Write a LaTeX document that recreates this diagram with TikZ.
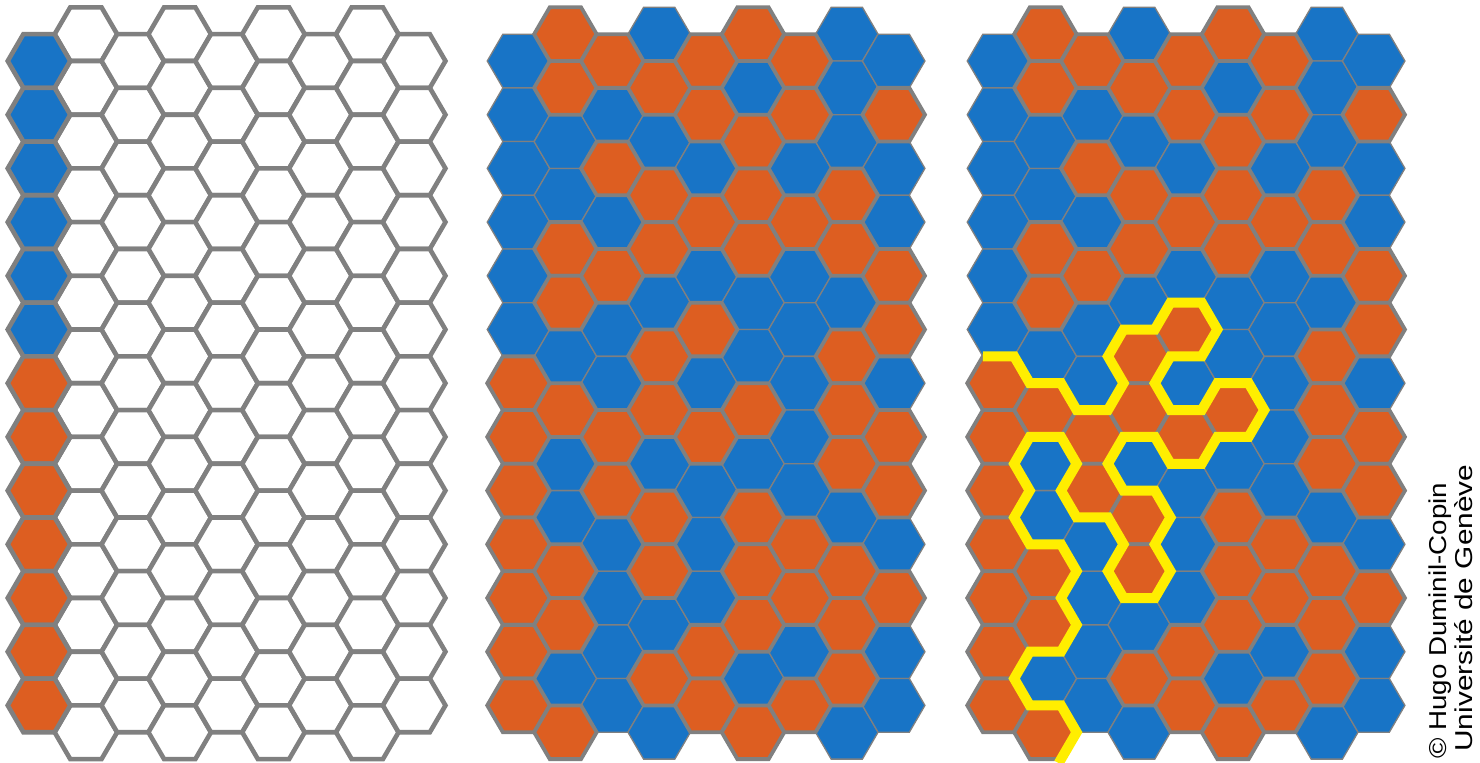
\documentclass[tikz,border=0pt]{standalone}
\usepackage{fontspec}
\newfontfamily\credfont{Liberation Sans}
\usepackage{graphicx}
\definecolor{hexblue}{RGB}{24,116,198}
\definecolor{hexorange}{RGB}{221,94,33}
\definecolor{hexgray}{RGB}{128,128,128}
\definecolor{pathyellow}{RGB}{255,238,0}
\tikzset{
  cellW/.style={fill=white, draw=hexgray, line width=2.3pt},
  cellWB/.style={fill=hexblue, draw=hexgray, line width=2.3pt},
  cellWO/.style={fill=hexorange, draw=hexgray, line width=2.3pt},
  cellB/.style={fill=hexblue, draw=hexgray, line width=0.65pt},
  cellO/.style={fill=hexorange, draw=hexgray, line width=1.9pt},
  interface/.style={draw=pathyellow, line width=5pt, line join=miter, line cap=butt},
  credit/.style={rotate=90, anchor=base west, inner sep=0pt, text=black}
}
\newcommand\hexcell[3]{\draw[#3] (#1+2,#2) -- (#1+1,#2-1) -- (#1-1,#2-1) -- (#1-2,#2) -- (#1-1,#2+1) -- (#1+1,#2+1) -- cycle;}
\def\gridcols{0/{B,B,B,B,B,B,O,O,O,O,O,O,O},
1/{O,O,B,B,O,O,B,O,B,B,O,O,B,O},
2/{O,B,O,B,O,B,B,O,O,B,B,B,B},
3/{B,O,B,O,O,B,O,O,B,O,O,B,O,B},
4/{O,O,B,O,B,O,B,O,B,B,B,O,O},
5/{O,B,O,O,O,B,B,O,B,O,O,O,B,O},
6/{O,O,B,O,B,B,B,B,B,O,O,B,O},
7/{B,B,B,O,O,B,O,O,O,B,O,O,O,B},
8/{B,O,B,B,O,O,B,O,O,B,O,B,B}}
\begin{document}
\begin{tikzpicture}[x=0.5pt,y=-0.5pt]
\fill[white] (0,0) rectangle (1480,762);
\useasboundingbox (0,0) rectangle (1480,762);
% ---------- panel 1: boundary condition only
\begin{scope}[shift={(39,61)}, x=7.8165pt, y=-13.425pt]
  \foreach \c in {1,...,8} {
    \pgfmathtruncatemacro\nk{mod(\c,2)==1 ? 13 : 12}
    \foreach \kk in {0,...,\nk} {
      \pgfmathtruncatemacro\ii{3*\c}
      \pgfmathtruncatemacro\jj{2*\kk-mod(\c,2)}
      \hexcell{\ii}{\jj}{cellW}
    }
  }
  \foreach \t [count=\kk from 0] in {B,B,B,B,B,B,O,O,O,O,O,O,O} {
    \pgfmathtruncatemacro\jj{2*\kk}
    \if\t B\hexcell{0}{\jj}{cellWB}\else\hexcell{0}{\jj}{cellWO}\fi
  }
\end{scope}
% ---------- panels 2 and 3: the colouring
\foreach \ox in {518.5,998.5} {
  \begin{scope}[shift={(\ox,61)}, x=7.8165pt, y=-13.425pt]
    \foreach \pass in {B,O} {
      \foreach \c/\cols in \gridcols {
        \foreach \t [count=\kk from 0] in \cols {
          \if\t\pass
            \pgfmathtruncatemacro\ii{3*\c}
            \pgfmathtruncatemacro\jj{2*\kk-mod(\c,2)}
            \if\pass B\hexcell{\ii}{\jj}{cellB}\else\hexcell{\ii}{\jj}{cellO}\fi
          \fi
        }
      }
    }
  \end{scope}
}
% ---------- panel 3: the exploration interface
\begin{scope}[shift={(998.5,61)}, x=7.8165pt, y=-13.425pt]
  \draw[interface] (-1,11) -- (1,11) -- (2,12) -- (4,12) -- (5,13) -- (7,13) -- (8,12) -- (7,11)
    -- (8,10) -- (10,10) -- (11,9) -- (13,9) -- (14,10) -- (13,11) -- (11,11) -- (10,12)
    -- (11,13) -- (13,13) -- (14,12) -- (16,12) -- (17,13) -- (16,14) -- (14,14) -- (13,15)
    -- (11,15) -- (10,14) -- (8,14) -- (7,15) -- (8,16) -- (10,16) -- (11,17) -- (10,18)
    -- (11,19) -- (10,20) -- (8,20) -- (7,19) -- (8,18) -- (7,17) -- (5,17) -- (4,16)
    -- (5,15) -- (4,14) -- (2,14) -- (1,15) -- (2,16) -- (1,17) -- (2,18) -- (4,18)
    -- (5,19) -- (4,20) -- (5,21) -- (4,22) -- (2,22) -- (1,23) -- (2,24) -- (4,24)
    -- (5,25) -- (3.85,26.15);
\end{scope}
% ---------- credit
\node[credit] (credA) at (1446.5,759.2)
  {\resizebox{138pt}{\height}{\credfont\fontsize{12.2pt}{14pt}\selectfont ©\ Hugo Duminil-Copin}};
\node[credit] (credB) at (1472.5,752)
  {\resizebox{143.5pt}{\height}{\credfont\fontsize{12.2pt}{14pt}\selectfont Université de Genève}};
\end{tikzpicture}
\end{document}
